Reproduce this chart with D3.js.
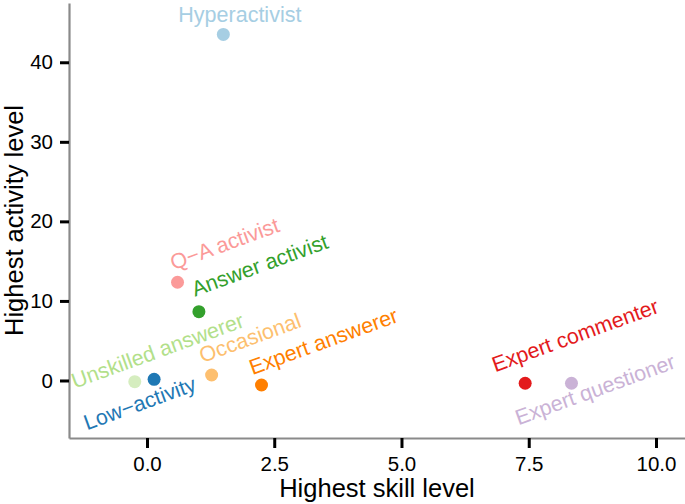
<!DOCTYPE html>
<html>
<head>
<meta charset="utf-8">
<script src="https://cdn.jsdelivr.net/npm/d3@7"></script>
<style>
  body { margin: 0; background: #fff; }
  svg { display: block; font-family: "Liberation Sans", Arial, sans-serif; }
</style>
</head>
<body>
<svg width="685" height="504"></svg>
<script>
// user types (cluster centroids)
const categories = [
    'Hyperactivist', 'Q\u2212A activist', 'Answer activist', 'Unskilled answerer',
    'Low\u2212activity', 'Occasional', 'Expert answerer', 'Expert commenter', 'Expert questioner'
];
const skillLevel = [1.50, 0.60, 1.02, -0.24, 0.14, 1.27, 2.25, 7.43, 8.34];
const activityLevel = [43.5, 12.35, 8.65, -0.15, 0.15, 0.69, -0.57, -0.35, -0.35];

const xTicks = [0, 2.5, 5, 7.5, 10];
const yTicks = [0, 10, 20, 30, 40];

// label placement relative to its point (px), and rotation
const labelOffsets = [
    [-45, -12, 0], [-4, -12, -20], [-4, -15, -20], [-60, 7, -20],
    [-67, 51, -20], [-9, -12, -20], [-9, -10, -20], [-30, -11, -20], [-53, 42, -20]
];

const colors = ['#a6cee3', '#fb9a99', '#33a02c', '#b2df8a', '#1f78b4',
                '#fdbf6f', '#ff7f00', '#e31a1c', '#cab2d6'];
const color = d3.scaleOrdinal(categories, colors);
// the unskilled dot looks washed out in the original
const dotOpacity = name => name === 'Unskilled answerer' ? 0.55 : 1;

const svg = d3.select('svg');
const margin = {top: 3, right: 0, bottom: 66, left: 69};
const width = 685 - margin.left - margin.right;
const height = 504 - margin.top - margin.bottom;

const g = svg.append('g')
    .attr('transform', `translate(${margin.left}, ${margin.top})`);

const x = d3.scaleLinear().domain([-1.532, 10.57]).range([0, width]);
const y = d3.scaleLinear().domain([-7.23, 47.45]).range([height, 0]);

// axes
const xAxis = g.append('g')
    .attr('transform', `translate(0, ${height})`)
    .call(d3.axisBottom(x).tickValues(xTicks).tickFormat(d3.format('.1f'))
        .tickSize(10).tickSizeOuter(0).tickPadding(8));

const yAxis = g.append('g')
    .call(d3.axisLeft(y).tickValues(yTicks).tickFormat(d3.format('d'))
        .tickSize(9).tickSizeOuter(0).tickPadding(7));

[xAxis, yAxis].forEach(a => {
    a.select('.domain').attr('stroke', '#8a8a8a').attr('stroke-width', 2.2);
    a.selectAll('.tick line').attr('stroke', '#000').attr('stroke-width', 3);
    a.selectAll('.tick text')
        .attr('fill', '#000')
        .style('font-size', '20.5px')
        .style('font-family', '"Liberation Sans", Arial, sans-serif');
});

// axis titles
svg.append('text')
    .attr('x', margin.left + width / 2)
    .attr('y', 497)
    .attr('text-anchor', 'middle')
    .style('font-size', '25.5px')
    .text('Highest skill level');

svg.append('text')
    .attr('transform', `translate(23, ${margin.top + height / 2}) rotate(-90)`)
    .attr('text-anchor', 'middle')
    .style('font-size', '25.5px')
    .text('Highest activity level');

// points
const pts = categories.map((c, i) => ({name: c, sx: skillLevel[i], ay: activityLevel[i], off: labelOffsets[i]}));

g.selectAll('.dot')
    .data(pts)
    .enter().append('circle')
    .attr('class', 'dot')
    .attr('cx', d => x(d.sx))
    .attr('cy', d => y(d.ay))
    .attr('r', 6.5)
    .attr('fill', d => color(d.name))
    .attr('fill-opacity', d => dotOpacity(d.name));

// labels
g.selectAll('.label')
    .data(pts)
    .enter().append('text')
    .attr('class', 'label')
    .attr('transform', d => `translate(${x(d.sx) + d.off[0]}, ${y(d.ay) + d.off[1]}) rotate(${d.off[2]})`)
    .style('font-size', '21.5px')
    .attr('fill', d => color(d.name))
    .text(d => d.name);
</script>
</body>
</html>
